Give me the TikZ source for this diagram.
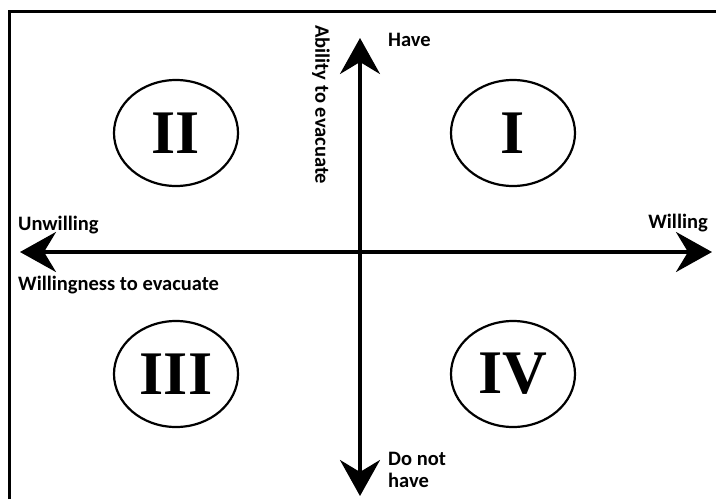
\documentclass[tikz,border=0pt]{standalone}
\usepackage{fontspec}
\setmainfont{Carlito}
\newfontfamily\numfont{Liberation Serif}
\usetikzlibrary{arrows.meta, shapes.geometric}
\begin{document}
\begin{tikzpicture}[x=1pt, y=-1pt,
  axis/.style={line width=3.5pt, -{Stealth[length=36pt, width=40pt, inset=12pt]}},
  quadrant/.style={ellipse, draw, line width=2.2pt, minimum width=124pt, minimum height=106pt, font=\numfont\bfseries\fontsize{62}{62}\selectfont},
  lbl/.style={font=\bfseries\fontsize{20.5}{22}\selectfont, inner sep=0pt},
]
\useasboundingbox (0,0) rectangle (716,499);
\draw[line width=3pt] (9,499) -- (9,11) -- (716,11);
\coordinate (origin) at (360,252);
\coordinate (top) at (360,38);
\coordinate (bottom) at (360,496);
\coordinate (left) at (20,252);
\coordinate (right) at (712,252);
\draw[axis] (origin) -- (top);
\draw[axis] (origin) -- (bottom);
\draw[axis] (origin) -- (left);
\draw[axis] (origin) -- (right);
\node[quadrant] (q1) at (513,133) {I};
\node[quadrant] (q2) at (176,133) {II};
\node[quadrant] (q3) at (176,374) {III};
\node[quadrant] (q4) at (513,374) {IV};
\node[lbl, rotate=-90, anchor=south west] (ability) at (312,25) {Ability to evacuate};
\node[lbl, anchor=west] (have) at (388,40) {Have};
\node[lbl, anchor=west] (unwilling) at (18,225) {Unwilling};
\node[lbl, anchor=east] (willing) at (708,223) {Willing};
\node[lbl, anchor=west] (willingness) at (18,285) {Willingness to evacuate};
\node[lbl, anchor=north west, align=left] (donot) at (388,452) {Do not\\have};
\end{tikzpicture}
\end{document}
